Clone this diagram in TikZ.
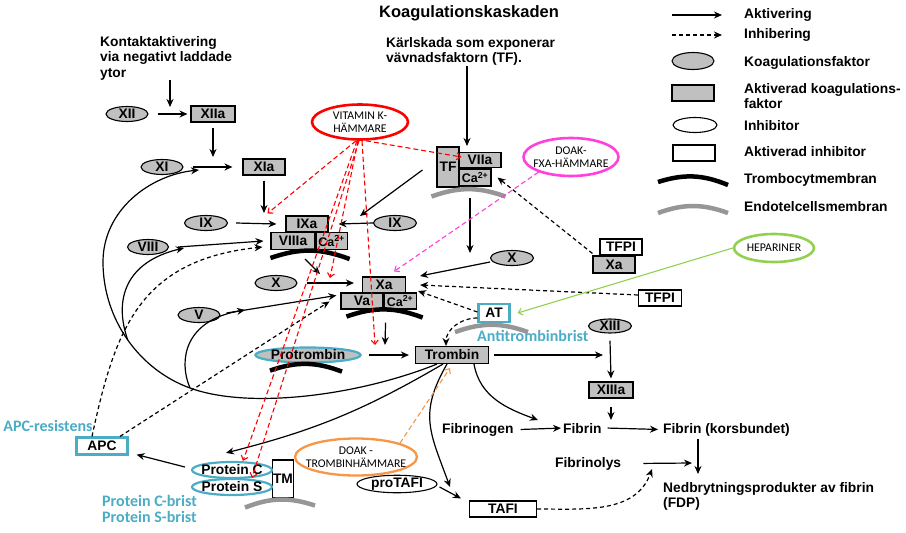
\documentclass[tikz,border=0pt]{standalone}
\usepackage{fontspec}
\setmainfont{Liberation Sans}
\newfontfamily\drugfont{Carlito}
\usetikzlibrary{arrows.meta, positioning, shapes.geometric}

\definecolor{apcblue}{RGB}{75,172,198}
\definecolor{vkred}{RGB}{255,0,0}
\definecolor{fxapink}{RGB}{255,64,220}
\definecolor{hepgreen}{RGB}{146,208,80}
\definecolor{throrange}{RGB}{247,150,70}
\definecolor{boxgray}{RGB}{192,192,192}
\definecolor{endogray}{RGB}{150,150,150}

\newcommand\lbl{\fontsize{13.8}{15.5}\selectfont\bfseries}

\begin{document}
\begin{tikzpicture}[x=1pt, y=-1pt,
  factor/.style = {ellipse, draw, line width=1.1pt, fill=boxgray, font=\lbl, inner sep=0pt, minimum width=42pt, minimum height=15pt},
  active/.style = {rectangle, draw, line width=1.1pt, fill=boxgray, font=\lbl, inner sep=0pt, minimum width=42pt, minimum height=16pt},
  inhib/.style = {factor, fill=white},
  ainhib/.style = {active, fill=white},
  cabox/.style = {active, minimum width=31pt, minimum height=17pt, font=\fontsize{12.5}{13}\selectfont\bfseries},
  txt/.style = {font=\lbl, inner sep=0pt},
  brist/.style = {font=\drugfont\bfseries\fontsize{16}{18}\selectfont, text=apcblue, inner sep=0pt},
  drug/.style = {ellipse, draw, fill=white, line width=2.6pt, inner sep=0pt, align=center, font=\drugfont\fontsize{11.8}{13.5}\selectfont},
  act/.style = {-{Stealth[length=8pt,width=7pt]}, line width=1.2pt},
  inh/.style = {act, dash pattern=on 4pt off 3pt},
  drugtip/.style = {-{Straight Barb[length=4pt,width=7pt]}, line width=1.1pt},
  drugdash/.style = {drugtip, dash pattern=on 5pt off 3pt},
  plate/.style = {line width=4.5pt},
  endo/.style = {line width=4.5pt, endogray},
]
\useasboundingbox (0,0) rectangle (906,533);

\node[txt, font=\fontsize{16.5}{18}\selectfont\bfseries, anchor=base] (title) at (469,17) {Koagulationskaskaden};
\node[txt, anchor=north west, align=left] (kontakt) at (100,36) {Kontaktaktivering\\via negativt laddade\\ytor};
\node[txt, anchor=north west, align=left] (karl) at (386,37) {Kärlskada som exponerar\\vävnadsfaktorn (TF).};

\node[factor] (xii) at (127,114) {XII};
\node[active, minimum width=44pt] (xiia) at (213,114) {XIIa};
\node[factor] (xi) at (162,167) {XI};
\node[active] (xia) at (264,167) {XIa};
\node[factor, minimum width=43pt] (ix) at (206,223) {IX};
\node[active] (ixa) at (307,224) {IXa};
\node[active, minimum width=44pt, minimum height=17pt] (viiia) at (293,241) {VIIIa};
\node[cabox, right=0pt of viiia] (caA) {Ca\textsuperscript{2+}};
\node[factor, minimum width=41pt] (viii) at (148,247) {VIII};
\node[factor, minimum width=43pt] (ixb) at (395,223) {IX};
\node[factor] (xb) at (276,283) {X};
\node[active, minimum width=43pt] (xa) at (384,285) {Xa};
\node[active] (va) at (362,301) {Va};
\node[cabox, minimum width=32pt, minimum height=16pt, right=0pt of va] (caB) {Ca\textsuperscript{2+}};
\node[factor] (v) at (199,315) {V};
\node[factor, minimum width=104pt, draw=apcblue, line width=2.2pt] (pt) at (308,355) {Protrombin};
\node[active, minimum width=73pt, minimum height=17pt] (tr) at (452,355) {Trombin};

\node[active, minimum width=22pt, minimum height=40pt] (tf) at (448,167) {TF};
\node[active, minimum height=15pt] (viia) at (480,160) {VIIa};
\node[cabox, minimum width=32pt] (caC) at (475,177.5) {Ca\textsuperscript{2+}};
\node[factor, minimum width=43pt] (xc) at (512,258) {X};
\node[ainhib] (tfpi) at (621,247) {TFPI};
\node[active, minimum height=17pt] (xat) at (614,264.5) {Xa};
\node[ainhib, minimum width=43pt] (tfpib) at (660,298) {TFPI};
\node[ainhib, draw=apcblue, line width=2.2pt, minimum width=31pt, minimum height=18pt] (at) at (494,313) {AT};

\node[factor, minimum width=43pt, minimum height=14pt] (xiii) at (610,326) {XIII};
\node[active, minimum width=44pt] (xiiia) at (611,390) {XIIIa};
\node[txt, anchor=base west] (fbg) at (442,433) {Fibrinogen};
\node[txt, anchor=base west] (fib) at (563,433) {Fibrin};
\node[txt, anchor=base west] (fibk) at (663,433) {Fibrin (korsbundet)};
\node[txt, anchor=base west] (fibl) at (555,467) {Fibrinolys};
\node[txt, anchor=north west, align=left] (fdp) at (663,482) {Nedbrytningsprodukter av fibrin\\(FDP)};
\node[ainhib, minimum width=67pt] (tafi) at (503,509) {TAFI};
\node[inhib, minimum width=80pt, minimum height=17pt] (ptafi) at (397,484) {proTAFI};

\node[ainhib, minimum width=21pt, minimum height=38pt] (tm) at (283,479) {TM};
\node[inhib, draw=apcblue, line width=2.2pt, minimum width=80pt, minimum height=16pt, inner xsep=-3pt] (pc) at (232,470) {Protein C};
\node[inhib, draw=apcblue, line width=2.2pt, minimum width=80pt, minimum height=16pt, inner xsep=-3pt] (ps) at (232,487) {Protein S};
\node[ainhib, draw=apcblue, line width=2.2pt, minimum width=51pt, minimum height=17pt] (apc) at (102,446) {APC};

\node[brist, anchor=base] (apcres) at (48,431) {APC-resistens};
\node[brist, anchor=base west] (pcbrist) at (102,506) {Protein C-brist};
\node[brist, anchor=base west] (psbrist) at (102,522) {Protein S-brist};
\node[brist, anchor=base west] (atbrist) at (477,341) {Antitrombinbrist};

\node[drug, draw=vkred, minimum width=96pt, minimum height=35pt] (vk) at (360,122) {VITAMIN K-\\HÄMMARE};
\node[drug, draw=fxapink, minimum width=95pt, minimum height=38pt, inner xsep=-4pt] (fxa) at (571,157) {DOAK-\\FXA-HÄMMARE};
\node[drug, draw=hepgreen, minimum width=80pt, minimum height=28pt] (hep) at (774,248) {HEPARINER};
\node[drug, draw=throrange, line width=2.3pt, minimum width=121pt, minimum height=37pt, inner xsep=-7pt] (thr) at (356,457) {DOAK -\\TROMBINHÄMMARE};

\node[txt, anchor=base west] (lgact) at (744,18) {Aktivering};
\node[txt, anchor=base west] (lginh) at (744,38) {Inhibering};
\node[txt, anchor=base west] (lgfac) at (744,66) {Koagulationsfaktor};
\node[txt, anchor=north west, align=left] (lgakt) at (744,83) {Aktiverad koagulations-\\faktor};
\node[txt, anchor=base west] (lginb) at (744,130) {Inhibitor};
\node[txt, anchor=base west] (lgainb) at (744,156) {Aktiverad inhibitor};
\node[txt, anchor=base west] (lgtromb) at (744,183) {Trombocytmembran};
\node[txt, anchor=base west] (lgendo) at (744,211) {Endotelcellsmembran};
\node[factor, minimum height=17pt] (lgell) at (693,61) {};
\node[active] (lgbox) at (693,93) {};
\node[inhib, minimum width=44pt] (lgwell) at (695,125) {};
\node[ainhib] (lgwbox) at (694,153) {};

\coordinate (j1) at (170,107);
\coordinate (j2) at (213,157);
\coordinate (j3) at (264,213);
\coordinate (j4) at (360,216);
\coordinate (j5) at (320,274);
\coordinate (j6) at (385,345);
\coordinate (j7) at (603,355);
\coordinate (j8) at (611,420);
\coordinate (j9) at (698,474);
\coordinate (j10) at (692,463);
\coordinate (j11) at (652,469);
\coordinate (j12) at (450,487);
\coordinate (j13) at (538,420);
\coordinate (j14) at (199,170);
\coordinate (j15) at (184,248);
\coordinate (j16) at (245,310);
\coordinate (j17) at (467,146);
\coordinate (j18) at (470,253);
\coordinate (j19) at (330,278);
\coordinate (j20) at (375,345);
\coordinate (br1) at (127.75,340);
\coordinate (br2) at (190,388);

\draw[plate] ([yshift=-8]viiia.south west) to[bend left=20] ([xshift=2,yshift=-9]caA.south east);
\draw[plate] ([xshift=6,yshift=-7]va.south west) to[bend left=20] ([xshift=6,yshift=-8]caB.south east);
\draw[plate] ([xshift=-38,yshift=-7]pt.south) to[bend left=20] ([xshift=34,yshift=-8]pt.south);
\draw[endo] ([xshift=-5,yshift=-9]tf.south west) to[bend left=20] ([xshift=14,yshift=-10]caC.south east);
\draw[endo] ([xshift=-39,yshift=-9]at.south) to[bend left=20] ([xshift=34,yshift=-9]at.south);
\draw[endo] ([xshift=-38,yshift=-9]tm.south) to[bend left=20] ([xshift=32,yshift=-7]tm.south);

\draw[act] ([xshift=-72,yshift=3]lgact.base west) -- ([xshift=-22,yshift=3]lgact.base west);
\draw[inh] ([xshift=-72,yshift=3]lginh.base west) -- ([xshift=-22,yshift=3]lginh.base west);
\draw[plate] ([xshift=-86,yshift=1]lgtromb.base west) to[bend left=20] ([xshift=-16,yshift=-2]lgtromb.base west);
\draw[endo] ([xshift=-86,yshift=-2]lgendo.base west) to[bend left=20] ([xshift=-16,yshift=-2]lgendo.base west);

\draw[act] (kontakt.south -| j1) -- (j1);
\draw[act] ([xshift=9]xii.east) -- ([xshift=-3]xiia.west);
\draw[act] ([yshift=-5]xiia.south) -- (j2);
\draw[act] ([xshift=9]xi.east) -- ([xshift=-10]xia.west);
\draw[act] ([yshift=-5]xia.south) -- (j3);
\draw[act] ([xshift=8]ix.east) -- ([xshift=-9]ixa.west);
\draw[act] (ixb.west) -- ([xshift=10]ixa.east);
\draw[act] ([xshift=-14,yshift=-3]tf.west) -- (j4);
\draw[act] ([xshift=9]viii.east) -- ([xshift=-7]viiia.west);
\draw[act] ([xshift=12,yshift=-9]viiia.south) -- (j5);
\draw[act] ([xshift=9]xb.east) -- ([xshift=-8,yshift=2]xa.west);
\draw[act] ([xshift=6,yshift=2]v.east) -- ([xshift=-4,yshift=-3]va.north west);
\draw[act] ([yshift=-4]xc.west) -- ([xshift=14,yshift=9]xa.east);
\draw[inh] ([yshift=3]tfpib.west) -- ([xshift=14]xa.east);
\draw[inh] ([yshift=1]at.west) -- ([xshift=12,yshift=-6]xa.east);
\draw[inh] ([yshift=-5]at.west) to[out=180,in=90] ([xshift=-6]tr.north);
\draw[act] ([xshift=2,yshift=-13]va.south east) -- (j6);
\draw[act] ([xshift=7]pt.east) -- ([xshift=-6]tr.west);
\draw[act] ([xshift=5]tr.east) -- (j7);
\draw[act] ([yshift=-7]xiii.south) -- ([yshift=3]xiiia.north);
\draw[act] ([yshift=-8]xiiia.south) -- (j8);
\draw[act] ([xshift=7]fbg.east) -- ([xshift=-2]fib.west);
\draw[act] ([xshift=6]fib.east) -- ([xshift=-5]fibk.west);
\draw[act] ([yshift=-3]fibk.south -| j9) -- (j9);
\draw[act] ([xshift=22]fibl.east) -- (j10);
\draw[inh] (tafi.east) to[out=0,in=-110] (j11);
\draw[act] ([xshift=2,yshift=-3]ptafi.east) -- ([xshift=-8,yshift=2]tafi.north west);
\draw[act] ([xshift=-5]tr.south) to[out=-120,in=110,looseness=1.2] (j12);
\draw[act] ([xshift=22]tr.south) to[out=-80,in=160] (j13);
\draw[act] ([xshift=-9]tr.south) to[bend left=8] ([xshift=-6,yshift=8]pc.north);
\draw[act] ([xshift=-6,yshift=3]pc.west) -- ([xshift=8,yshift=1]apc.south east);
\draw[inh] ([xshift=-10]apc.north) .. controls +(23,-107) and +(-123,13) .. ([xshift=-8,yshift=-6]viiia.west);
\draw[inh] ([xshift=18]apc.north) -- ([xshift=-11,yshift=-9]va.north west);
\draw[act] ([xshift=-15]tr.south) .. controls (360,395) and (250,410) .. (br2) .. controls (140,370) and (103,320) .. (103,262) .. controls (103,210) and (150,175) .. (j14);
\draw[act] (br1) .. controls +(-14,-40) and +(-59,14) .. (j15);
\draw[act] (br2) .. controls +(-12,-28) and +(-60,10) .. (j16);
\draw[inh] ([yshift=2]xat.north west) -- ([xshift=6]caC.east);
\draw[act] (karl.south -| j17) -- (j17);
\draw[act] ([yshift=-11]caC.south -| j18) -- (j18);

\draw[drugdash, vkred] ([xshift=6]vk.south) -- ([xshift=3,yshift=3]viia.west);
\draw[drugdash, vkred] ([xshift=-4]vk.south) -- ([xshift=-18,yshift=2]ixa.north west);
\draw[drugdash, vkred] ([xshift=-2]vk.south) -- (j19);
\draw[drugdash, vkred] ([xshift=2]vk.south) -- (j20);
\draw[drugdash, vkred] ([xshift=-3]vk.south) -- ([xshift=11]pc.north);
\draw[drugdash, vkred] ([xshift=-1]vk.south) -- ([xshift=20]ps.north);
\draw[drugdash, fxapink] (fxa.205) -- ([xshift=-12,yshift=5]xa.north east);
\draw[drugtip, hepgreen] (hep.west) -- ([xshift=7]at.east);
\draw[drugdash, throrange] (thr.north east) -- ([xshift=-2,yshift=-4]tr.south);
\end{tikzpicture}
\end{document}
